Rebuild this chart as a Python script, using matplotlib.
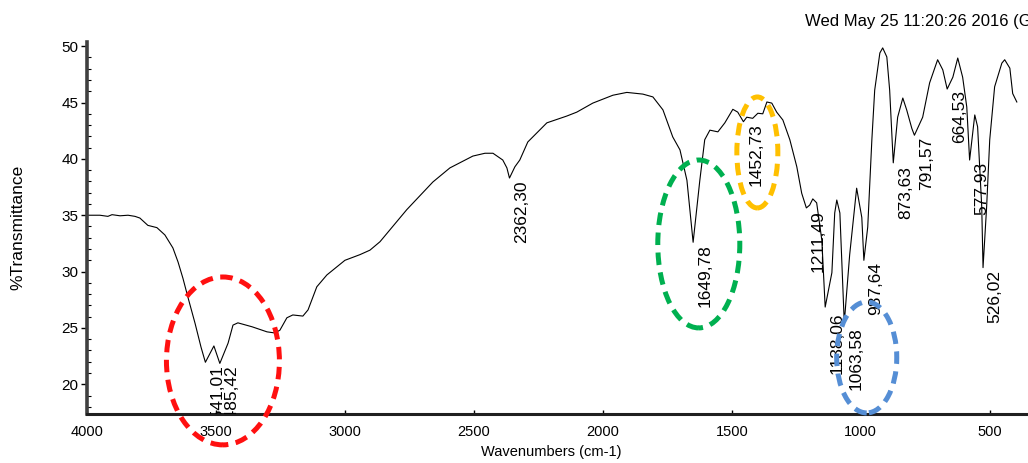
import matplotlib
matplotlib.use('Agg')
import matplotlib.pyplot as plt
from matplotlib.patches import Ellipse
from matplotlib.ticker import MultipleLocator

plt.rcParams['font.family'] = ['Liberation Sans', 'DejaVu Sans']

# FTIR spectrum (wavenumber cm-1, %T)
wavenumber = [4000, 3950, 3919, 3903, 3872, 3841, 3814, 3795, 3764, 3729,
              3698, 3667, 3647, 3628, 3609, 3581, 3558, 3541, 3508, 3485,
              3453, 3434, 3415, 3360, 3302, 3271, 3252, 3225, 3202, 3163,
              3143, 3109, 3070, 3000, 2942, 2903, 2864, 2760, 2659, 2593,
              2504, 2457, 2426, 2388, 2372, 2362, 2341, 2322, 2291, 2217,
              2140, 2101, 2039, 1961, 1907, 1845, 1806, 1767, 1729, 1701,
              1674, 1650, 1624, 1605, 1585, 1554, 1527, 1496, 1477, 1455,
              1442, 1419, 1399, 1380, 1364, 1345, 1326, 1302, 1275, 1248,
              1229, 1211, 1198, 1186, 1171, 1151, 1138, 1112, 1101, 1093,
              1081, 1064, 1043, 1016, 996, 988, 973, 957, 946, 926,
              915, 899, 888, 874, 857, 837, 822, 802, 792, 760,
              733, 702, 682, 665, 643, 624, 605, 589, 578, 558,
              547, 531, 526, 512, 500, 481, 453, 442, 422, 411, 395]
transmittance = [35.0, 35.0, 34.9, 35.05, 34.95, 35.0, 34.9, 34.75, 34.1, 33.9,
                 33.25, 32.1, 30.85, 29.4, 27.75, 25.4, 23.3, 21.95, 23.4, 21.85,
                 23.65, 25.25, 25.45, 25.1, 24.65, 24.55, 24.8, 25.9, 26.15, 26.05,
                 26.6, 28.65, 29.7, 31.0, 31.5, 31.9, 32.65, 35.5, 37.95, 39.2,
                 40.25, 40.5, 40.5, 39.9, 39.2, 38.3, 39.3, 39.9, 41.5, 43.2,
                 43.8, 44.15, 44.95, 45.65, 45.9, 45.75, 45.5, 44.35, 41.95, 40.8,
                 38.1, 32.6, 38.1, 41.7, 42.55, 42.4, 43.2, 44.4, 44.15, 43.3,
                 43.7, 43.6, 44.05, 44.0, 45.05, 44.95, 44.15, 43.45, 41.7, 39.3,
                 36.95, 35.65, 35.9, 36.45, 36.1, 32.8, 26.85, 29.9, 35.2, 36.35,
                 35.2, 25.45, 31.5, 37.4, 34.8, 31.0, 33.95, 41.7, 46.1, 49.4,
                 49.85, 49.05, 46.1, 39.65, 43.7, 45.4, 44.35, 42.7, 42.1, 43.7,
                 46.75, 48.8, 47.9, 46.2, 47.25, 48.95, 47.25, 44.6, 39.9, 43.9,
                 42.85, 35.75, 30.35, 35.75, 41.7, 46.4, 48.5, 48.8, 48.05, 45.8, 45.05]

# peak labels: wavenumber, text, %T where the label starts
peak_wn = [3541.01, 3485.42, 2362.30, 1649.78, 1452.73, 1211.49, 1138.06,
           1063.58, 987.64, 873.63, 791.57, 664.53, 577.93, 526.02]
peak_text = ['3541,01', '3485,42', '2362,30', '1649,78', '1452,73', '1211,49', '1138,06',
             '1063,58', '987,64', '873,63', '791,57', '664,53', '577,93', '526,02']
peak_label_T = [21.7, 21.7, 38.1, 32.45, 43.2, 35.45, 26.4,
                25.1, 30.85, 39.35, 41.95, 46.1, 39.7, 30.15]

fig = plt.figure(figsize=(10.28, 4.63), dpi=100)
ax = fig.add_axes([87 / 1028, 1 - 414 / 463, 944 / 1028, 372.3 / 463])

ax.plot(wavenumber, transmittance, color='black', linewidth=0.8)

for wn, txt, t in zip(peak_wn, peak_text, peak_label_T):
    ax.annotate(txt, xy=(wn, t), xytext=(12, 0), textcoords='offset pixels',
                rotation=90, ha='center', va='top', fontsize=12.5, clip_on=True)

# dashed rings marking the bands
rings = [(3473, 22.07, 438, 14.9, '#ff1010'),
         (1628, 32.45, 318, 14.9, '#00b050'),
         (1401, 40.57, 159, 9.85, '#ffc000'),
         (977, 22.38, 233, 9.85, '#558ed5')]
for cx, cy, w, h, c in rings:
    e = Ellipse((cx, cy), w, h, fill=False, edgecolor=c, linewidth=3.6,
                linestyle=(0, (2.5, 1.5)), clip_on=False, zorder=5)
    ax.add_patch(e)

ax.set_xlim(4000, 340)
ax.set_ylim(17.36, 50.4)

ax.xaxis.set_major_locator(MultipleLocator(500))
ax.yaxis.set_major_locator(MultipleLocator(5))
ax.yaxis.set_minor_locator(MultipleLocator(1))

for s in ['top', 'right']:
    ax.spines[s].set_visible(False)
ax.spines['left'].set_linewidth(2.6)
ax.spines['left'].set_color('#404040')
ax.spines['bottom'].set_linewidth(2.2)
ax.spines['bottom'].set_color('#202020')

ax.tick_params(axis='y', which='major', direction='out', length=4, width=1,
               labelsize=11, pad=2)
ax.tick_params(axis='y', which='minor', direction='in', length=3, width=0.8)
ax.tick_params(axis='x', which='major', direction='in', length=3, width=1,
               labelsize=10.5, pad=8)

ax.set_xlabel('Wavenumbers (cm-1)', fontsize=10.5, va='top')
ax.xaxis.set_label_coords(0.492, -0.083)
ax.set_ylabel('%Transmittance', fontsize=12.5)
ax.yaxis.set_label_coords(-0.0657, 0.5)

fig.text(805 / 1028, 1 - 21.7 / 463, 'Wed May 25 11:20:26 2016 (GMT+07:00)',
         fontsize=12, ha='left', va='center')

fig.savefig('out.png', dpi=100)
